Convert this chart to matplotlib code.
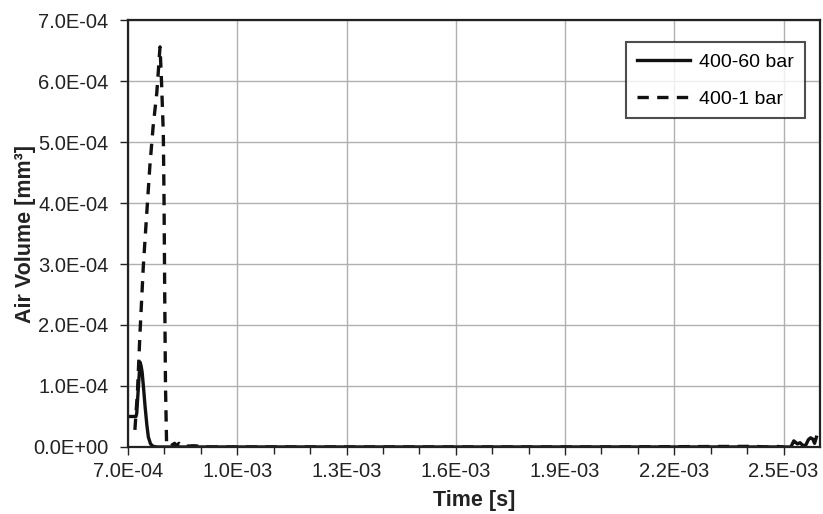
import matplotlib
matplotlib.use("Agg")
import matplotlib.pyplot as plt
from matplotlib.ticker import FixedLocator, FuncFormatter

plt.rcParams['font.family'] = ['Liberation Sans', 'DejaVu Sans']

# 400-60 bar (solid)
t60 = [7.00e-4, 7.22e-4, 7.24e-4, 7.28e-4, 7.31e-4, 7.33e-4, 7.36e-4, 7.39e-4,
       7.43e-4, 7.47e-4, 7.52e-4, 7.56e-4, 7.62e-4, 7.69e-4, 7.8e-4, 9.0e-4,
       1.5e-3, 2.0e-3, 2.4e-3, 2.52e-3, 2.528e-3, 2.532e-3, 2.538e-3, 2.545e-3,
       2.552e-3, 2.56e-3, 2.568e-3, 2.574e-3, 2.58e-3, 2.585e-3, 2.59e-3]
v60 = [0.50e-4, 0.50e-4, 0.55e-4, 0.93e-4, 1.20e-4, 1.39e-4, 1.33e-4, 1.22e-4,
       0.95e-4, 0.66e-4, 0.35e-4, 0.16e-4, 0.05e-4, 0.01e-4, 0.0, 0.0,
       0.0, 0.0, 0.0, 0.0, 0.10e-4, 0.08e-4, 0.05e-4, 0.07e-4,
       0.03e-4, 0.02e-4, 0.12e-4, 0.15e-4, 0.13e-4, 0.06e-4, 0.16e-4]

# 400-1 bar (dashed)
t1 = [7.19e-4, 7.26e-4, 7.33e-4, 7.42e-4, 7.49e-4, 7.60e-4, 7.69e-4, 7.79e-4,
      7.83e-4, 7.86e-4, 7.88e-4, 7.92e-4, 7.97e-4, 7.99e-4, 8.01e-4, 8.03e-4,
      8.06e-4, 8.15e-4, 8.28e-4, 8.33e-4, 8.40e-4, 8.50e-4, 8.8e-4, 9.25e-4,
      1.2e-3, 2.0e-3, 2.42e-3, 2.45e-3, 2.48e-3, 2.50e-3]
v1 = [0.28e-4, 0.9e-4, 1.87e-4, 2.95e-4, 3.60e-4, 4.60e-4, 5.25e-4, 5.80e-4,
      6.13e-4, 6.40e-4, 6.56e-4, 6.00e-4, 5.15e-4, 4.05e-4, 2.40e-4, 1.0e-4,
      0.05e-4, 0.01e-4, 0.06e-4, 0.02e-4, 0.06e-4, 0.01e-4, 0.02e-4, 0.0,
      0.0, 0.0, 0.01e-4, 0.0, 0.01e-4, 0.0]

x_ticks = [7.0e-4, 1.0e-3, 1.3e-3, 1.6e-3, 1.9e-3, 2.2e-3, 2.5e-3]
x_minor = [8e-4, 9e-4, 1.1e-3, 1.2e-3, 1.4e-3, 1.5e-3, 1.7e-3, 1.8e-3,
           2.0e-3, 2.1e-3, 2.3e-3, 2.4e-3]
y_ticks = [0, 1e-4, 2e-4, 3e-4, 4e-4, 5e-4, 6e-4, 7e-4]

fig = plt.figure(figsize=(8.23, 5.14), dpi=100)
ax = fig.add_axes([0.1555, 0.1304, 0.8409, 0.8306])

ax.plot(t60, v60, color='#111111', lw=2.4, ls='-', label='400-60 bar')
ax.plot(t1, v1, color='#111111', lw=2.4, ls=(0, (3.4, 2.5)), label='400-1 bar')

ax.set_xlim(7e-4, 2.6e-3)
ax.set_ylim(0, 7e-4)
ax.xaxis.set_major_locator(FixedLocator(x_ticks))
ax.xaxis.set_minor_locator(FixedLocator(x_minor))
ax.yaxis.set_major_locator(FixedLocator(y_ticks))

def sci(v, pos):
    return "%.1E" % v
ax.xaxis.set_major_formatter(FuncFormatter(sci))
ax.yaxis.set_major_formatter(FuncFormatter(sci))

ax.grid(True, which='major', color='#b0b0b0', lw=1.0)
ax.set_axisbelow(True)
for s in ax.spines.values():
    s.set_color('#222222')
    s.set_linewidth(1.6)

ax.tick_params(axis='both', which='major', labelsize=14.5, colors='#222222',
               length=6, width=1.0, direction='out')
ax.tick_params(axis='x', which='minor', length=5, width=1.0, direction='out', colors='#222222')
ax.tick_params(axis='x', pad=5)
ax.tick_params(axis='y', pad=8)

ax.set_xlabel('Time [s]', fontsize=15.5, fontweight='bold', color='#222222', labelpad=6)
ax.set_ylabel('Air Volume [mm³]', fontsize=15.5, fontweight='bold', color='#222222', labelpad=-2)

leg = ax.legend(loc='upper right', bbox_to_anchor=(0.978, 0.948), borderaxespad=0,
                fontsize=14, frameon=True, fancybox=False, edgecolor='#222222',
                handlelength=2.7, borderpad=0.55, labelspacing=1.0, handletextpad=0.5)
leg.get_frame().set_linewidth(1.5)

fig.savefig('out.png', dpi=100)
